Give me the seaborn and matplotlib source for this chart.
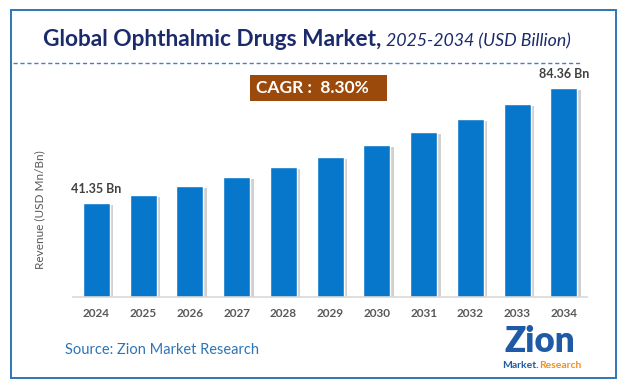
import matplotlib
matplotlib.use("Agg")
import matplotlib.pyplot as plt
import matplotlib.patheffects as pe
from matplotlib.patches import Rectangle
from matplotlib.lines import Line2D
import seaborn as sns
import pandas as pd

# Data
years = ["2024", "2025", "2026", "2027", "2028", "2029", "2030", "2031", "2032", "2033", "2034"]
revenue = [41.35, 44.33, 47.69, 51.05, 54.78, 58.51, 62.98, 67.94, 72.79, 78.39, 84.36]
labelled = {"2024": "41.35 Bn", "2034": "84.36 Bn"}
cagr_text = "CAGR :  8.30%"

BAR = "#0777cc"
NAVY = "#1b2a6b"
GREY = "#404040"

sns.set_style("white")
plt.rcParams["font.family"] = ["Lato", "DejaVu Sans"]

W, H = 625, 388
fig = plt.figure(figsize=(W / 100, H / 100), dpi=100)
fig.patch.set_facecolor("white")

def fx(px):
    return px / W

def fy(py):
    return 1 - py / H

# frame around the whole graphic
fig.add_artist(Rectangle((fx(11), fy(378)), fx(616) - fx(11), fy(10) - fy(378),
                         transform=fig.transFigure, fill=False,
                         edgecolor="#2e75b6", linewidth=1.4))

# title: bold part + italic part
fig.text(fx(381), fy(40), "Global Ophthalmic Drugs Market,", ha="right", va="center",
         fontsize=16.3, fontweight="bold", color=NAVY)
fig.text(fx(386), fy(41), "2025-2034 (USD Billion)", ha="left", va="center",
         fontsize=12.8, fontstyle="italic", color=NAVY)

# dashed separator
fig.add_artist(Line2D([fx(13), fx(580)], [fy(63), fy(63)], transform=fig.transFigure,
                      color="#4a7cc4", linewidth=1.0, linestyle=(0, (3, 2))))

# bar chart
ax = fig.add_axes([fx(73), fy(297), fx(587.3) - fx(73), fy(80) - fy(297)])
df = pd.DataFrame({"year": years, "revenue": revenue})
sns.barplot(data=df, x="year", y="revenue", color=BAR, width=0.58, saturation=1, ax=ax)
for bar in ax.patches:
    bar.set_path_effects([pe.SimplePatchShadow(offset=(2.5, -1.5), shadow_rgbFace="#8a8a8a",
                                               alpha=0.4), pe.Normal()])

ax.set_xlim(-0.5, len(years) - 0.5)
ax.set_ylim(6.4, 87.34)
ax.set_yticks([])
ax.set_xlabel("")
ax.set_ylabel("")
for side in ["top", "right", "left"]:
    ax.spines[side].set_visible(False)
ax.spines["bottom"].set_color("#d9d9d9")
ax.spines["bottom"].set_linewidth(1.2)
ax.tick_params(axis="x", length=0, pad=8, labelsize=8.5, labelcolor="#595959")
for t in ax.get_xticklabels():
    t.set_fontweight("bold")

for i, (yr, val) in enumerate(zip(years, revenue)):
    if yr in labelled:
        ax.annotate(labelled[yr], (i, val), xytext=(0, 6), textcoords="offset points",
                    ha="center", va="bottom", fontsize=9, fontweight="bold", color=GREY)

# CAGR badge (drawn above the axes)
fig.add_artist(Rectangle((fx(250), fy(101)), fx(387) - fx(250), fy(75) - fy(101),
                         transform=fig.transFigure, facecolor="#9b4a0b", edgecolor="none",
                         zorder=4))
fig.text(fx(312), fy(88), cagr_text, ha="center", va="center", fontsize=12.5,
         fontweight="bold", color="white", zorder=5)

# y label
fig.text(fx(40), fy(210), "Revenue (USD Mn/Bn)", rotation=90, ha="center", va="center",
         fontsize=8.5, color="#595959")

# source
fig.text(fx(65), fy(350), "Source: Zion Market Research", ha="left", va="center",
         fontsize=10.5, color="#2e75b6")

# logo
fig.text(fx(540), fy(342), "Zion", ha="center", va="center", fontsize=25,
         fontweight="heavy", color="#1f5aa6")
fig.text(fx(539), fy(365), "Market.", ha="right", va="center", fontsize=7.5,
         fontweight="bold", color="#1f5aa6")
fig.text(fx(539), fy(365), "Research", ha="left", va="center", fontsize=7.5,
         fontweight="bold", color="#f0901e")

fig.savefig("out.png", dpi=100)
